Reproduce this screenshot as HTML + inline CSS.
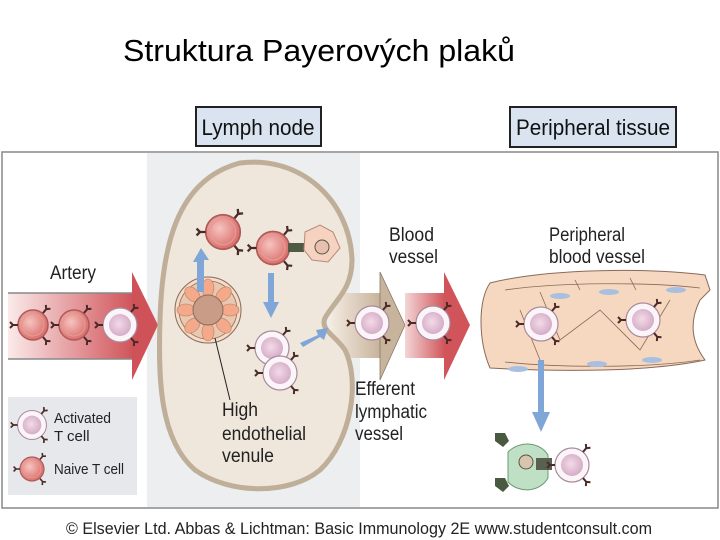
<!DOCTYPE html>
<html><head><meta charset="utf-8"><style>
html,body{margin:0;padding:0;background:#fff;width:720px;height:540px;overflow:hidden}
svg{display:block}
text{font-family:"Liberation Sans",sans-serif}
</style></head><body>
<svg width="720" height="540" viewBox="0 0 720 540" xmlns="http://www.w3.org/2000/svg">
<defs>
<radialGradient id="gn" cx="0.4" cy="0.4" r="0.6"><stop offset="0" stop-color="#f6c4c0"/><stop offset="1" stop-color="#d9706c"/></radialGradient>
<radialGradient id="ga" cx="0.45" cy="0.45" r="0.6"><stop offset="0" stop-color="#f3dbe8"/><stop offset="1" stop-color="#d2a9c4"/></radialGradient>
<linearGradient id="art" x1="0" x2="1"><stop offset="0" stop-color="#fbeaea"/><stop offset="1" stop-color="#d0545a"/></linearGradient>
<linearGradient id="eff" x1="0" x2="1"><stop offset="0" stop-color="#f4ece2"/><stop offset="1" stop-color="#c8b39c"/></linearGradient>
<linearGradient id="bv" x1="0" x2="1"><stop offset="0" stop-color="#f3d6d6"/><stop offset="1" stop-color="#d0545a"/></linearGradient>
<g id="rc"><path d="M0 0 L0 -5 M0 -5 L-3 -8 M0 -5 L3 -8" stroke="#4a2a26" stroke-width="2" fill="none"/></g>
<g id="naive"><circle r="15" fill="url(#gn)" stroke="#b05a58" stroke-width="1.5"/><circle r="11" fill="none" stroke="#e79a94" stroke-width="1"/>
<use href="#rc" transform="translate(-15,0) rotate(-90)"/><use href="#rc" transform="translate(10,-12) rotate(40)"/><use href="#rc" transform="translate(10,12) rotate(140)"/></g>
<g id="act"><circle r="17" fill="#fbf4f8" stroke="#a88a9c" stroke-width="1.2"/><circle r="11" fill="url(#ga)"/>
<use href="#rc" transform="translate(-17,0) rotate(-90)"/><use href="#rc" transform="translate(11,-13) rotate(40)"/><use href="#rc" transform="translate(11,13) rotate(140)"/></g>
<ellipse id="hc" rx="6" ry="9" fill="#f3a98a" stroke="#c07c60" stroke-width="0.6"/>
</defs>
<text x="123" y="61" font-size="31" fill="#000" textLength="392" lengthAdjust="spacingAndGlyphs">Struktura Payerových plaků</text>
<rect x="2" y="152" width="716" height="356" fill="#fff" stroke="#888" stroke-width="1.5"/>
<rect x="147" y="153" width="213" height="354" fill="#eceef0"/>
<rect x="196" y="107" width="125" height="39" fill="#d9e4f0" stroke="#222" stroke-width="2"/>
<text x="258" y="135" font-size="22" text-anchor="middle" fill="#111" textLength="113" lengthAdjust="spacingAndGlyphs">Lymph node</text>
<rect x="510" y="107" width="166" height="40" fill="#d9e4f0" stroke="#222" stroke-width="2"/>
<text x="593" y="135" font-size="22" text-anchor="middle" fill="#111" textLength="154" lengthAdjust="spacingAndGlyphs">Peripheral tissue</text>
<rect x="330" y="293" width="50" height="65" fill="url(#eff)"/>
<path d="M380 293 L380 272 L405 325 L380 380 L380 358 Z" fill="#c8b39c" stroke="#8a7868" stroke-width="0.8"/>
<rect x="405" y="293" width="40" height="65" fill="url(#bv)"/>
<path d="M444 293 L444 272 L470 325 L444 380 L444 358 Z" fill="#d0545a"/>
<rect x="8" y="293" width="125" height="66" fill="url(#art)"/>
<line x1="8" y1="293" x2="133" y2="293" stroke="#888" stroke-width="1.5"/>
<line x1="8" y1="359" x2="133" y2="359" stroke="#888" stroke-width="1.5"/>
<path d="M132 293 L132 272 L158 325 L132 380 L132 359 Z" fill="#cf5258"/>
<path d="M240 163 C300 155 350 200 352 260 C352 290 335 300 325 318 C320 330 335 335 345 350 C360 380 352 440 320 470 C290 495 230 495 195 470 C160 440 158 380 160 320 C162 250 175 180 240 163 Z" fill="#efe6dc" stroke="#bfae98" stroke-width="5"/>
<circle cx="208" cy="310" r="33" fill="#f3dcc8" stroke="#8a6a58" stroke-width="1"/>
<circle cx="208" cy="310" r="29" fill="#e8c8b0" stroke="#8a6a58" stroke-width="0.8"/>
<g transform="translate(208,310)">
<use href="#hc" transform="rotate(0) translate(0,-22)"/><use href="#hc" transform="rotate(45) translate(0,-22)"/><use href="#hc" transform="rotate(90) translate(0,-22)"/><use href="#hc" transform="rotate(135) translate(0,-22)"/><use href="#hc" transform="rotate(180) translate(0,-22)"/><use href="#hc" transform="rotate(225) translate(0,-22)"/><use href="#hc" transform="rotate(270) translate(0,-22)"/><use href="#hc" transform="rotate(315) translate(0,-22)"/>
</g>
<circle cx="208" cy="310" r="15" fill="#c89c86" stroke="#8a6a58" stroke-width="1"/>
<line x1="215" y1="338" x2="230" y2="400" stroke="#222" stroke-width="1"/>
<use href="#naive" transform="translate(223,232) scale(1.15)"/>
<use href="#naive" transform="translate(273,248) scale(1.1)"/>
<rect x="288" y="243" width="16" height="9" fill="#4e5a44"/>
<path d="M305 232 L320 225 L333 232 L340 248 L328 262 L312 260 L304 250 Z" fill="#f6d2c0" stroke="#b88a78" stroke-width="1"/>
<circle cx="322" cy="247" r="7" fill="#e8c0b0" stroke="#554" stroke-width="1"/>
<use href="#act" transform="translate(272,348)"/>
<use href="#act" transform="translate(280,373)"/>
<path d="M197 292 L197 262 L193 262 L201 248 L209 260 L204 260 L204 292 Z" fill="#7fa6d6"/>
<path d="M268 273 L268 302 L263 302 L271 318 L279 302 L274 302 L274 273 Z" fill="#7fa6d6"/>
<path d="M300 343 L318 335 L316 330 L328 328 L324 340 L320 337 L303 347 Z" fill="#7fa6d6"/>
<use href="#naive" transform="translate(33,325)"/>
<use href="#naive" transform="translate(74,325)"/>
<use href="#act" transform="translate(120,325)"/>
<use href="#act" transform="translate(372,323)"/>
<use href="#act" transform="translate(433,323)"/>
<path d="M490 283 C550 268 650 268 705 275 L710 290 L700 300 C690 320 690 340 705 360 C650 372 560 372 490 368 C478 340 478 300 490 283 Z" fill="#f6d8c0" stroke="#8a6a58" stroke-width="1"/>
<path d="M505 290 C560 282 650 282 700 288 M505 362 C560 368 650 368 700 360 M540 292 L560 340 L600 310 L640 350 L670 300 M520 310 L540 360 M575 280 L580 290 M630 278 L636 290" stroke="#8a6a58" stroke-width="0.8" fill="none"/>
<ellipse cx="560" cy="296" rx="10" ry="3" fill="#a8bfe0"/><ellipse cx="609" cy="292" rx="10" ry="3" fill="#a8bfe0"/><ellipse cx="676" cy="290" rx="10" ry="3" fill="#a8bfe0"/>
<ellipse cx="518" cy="369" rx="10" ry="3" fill="#a8bfe0"/><ellipse cx="597" cy="364" rx="10" ry="3" fill="#a8bfe0"/><ellipse cx="652" cy="360" rx="10" ry="3" fill="#a8bfe0"/>
<use href="#act" transform="translate(541,324)"/>
<use href="#act" transform="translate(643,320)"/>
<path d="M538 360 L538 412 L532 412 L541 432 L550 412 L544 412 L544 360 Z" fill="#7fa6d6"/>
<path d="M508 452 C520 440 540 442 548 455 L548 478 C540 492 520 494 508 482 Z" fill="#bfe0c4" stroke="#6a9a70" stroke-width="1"/>
<circle cx="526" cy="462" r="7" fill="#d9c4b0" stroke="#554" stroke-width="1"/>
<rect x="536" y="458" width="16" height="12" fill="#5a6050"/>
<path d="M495 433 l10 0 l4 8 l-6 6 l-8 -6 Z M495 478 l10 0 l4 8 l-6 6 l-8 -6 Z" fill="#4a5a40"/>
<use href="#act" transform="translate(572,465)"/>
<rect x="8" y="397" width="129" height="98" fill="#e6e8ec"/>
<use href="#act" transform="translate(32,425) scale(0.85)"/>
<use href="#naive" transform="translate(32,469) scale(0.8)"/>
<g font-size="15" fill="#222">
<text x="54" y="423" textLength="57" lengthAdjust="spacingAndGlyphs">Activated</text>
<text x="54" y="441">T cell</text>
<text x="54" y="474" textLength="70" lengthAdjust="spacingAndGlyphs">Naive T cell</text>
</g>
<g font-size="19" fill="#222">
<text x="50" y="279" textLength="46" lengthAdjust="spacingAndGlyphs">Artery</text>
<text x="222" y="416" textLength="36" lengthAdjust="spacingAndGlyphs">High</text>
<text x="222" y="440" textLength="84" lengthAdjust="spacingAndGlyphs">endothelial</text>
<text x="222" y="462" textLength="52" lengthAdjust="spacingAndGlyphs">venule</text>
<text x="389" y="241" textLength="45" lengthAdjust="spacingAndGlyphs">Blood</text>
<text x="389" y="263" textLength="49" lengthAdjust="spacingAndGlyphs">vessel</text>
<text x="549" y="241" textLength="76" lengthAdjust="spacingAndGlyphs">Peripheral</text>
<text x="549" y="263" textLength="96" lengthAdjust="spacingAndGlyphs">blood vessel</text>
<text x="355" y="395" textLength="60" lengthAdjust="spacingAndGlyphs">Efferent</text>
<text x="355" y="418" textLength="72" lengthAdjust="spacingAndGlyphs">lymphatic</text>
<text x="355" y="440" textLength="48" lengthAdjust="spacingAndGlyphs">vessel</text>
</g>
<text x="66" y="534" font-size="17" fill="#222" textLength="586" lengthAdjust="spacingAndGlyphs">© Elsevier Ltd. Abbas &amp; Lichtman: Basic Immunology 2E www.studentconsult.com</text>
</svg>
</body></html>
